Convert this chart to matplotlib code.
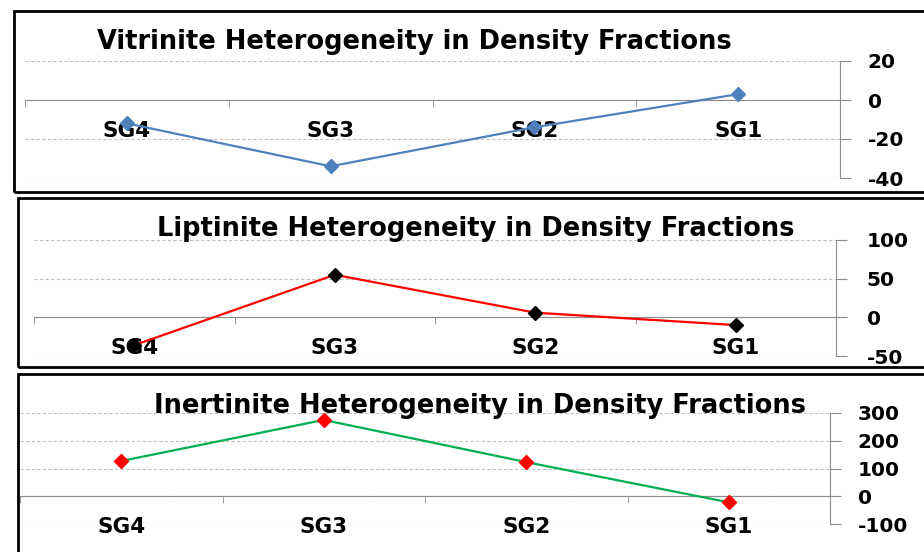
import numpy as np
import matplotlib
matplotlib.use('Agg')
import matplotlib.pyplot as plt
from matplotlib.patches import Rectangle

# Data
categories = ['SG4', 'SG3', 'SG2', 'SG1']

vitrinite = [-12, -34, -14, 3]
vitrinite_ticks = [-40, -20, 0, 20]

liptinite = [-36, 55, 6, -10]
liptinite_ticks = [-50, 0, 50, 100]

inertinite = [127, 275, 123, -22]
inertinite_ticks = [-100, 0, 100, 200, 300]

titles = ['Vitrinite Heterogeneity in Density Fractions',
          'Liptinite Heterogeneity in Density Fractions',
          'Inertinite Heterogeneity in Density Fractions']

W, H = 924, 552
GRAY = '#8c8c8c'
GRID = '#c0c0c0'

plt.rcParams['font.family'] = 'DejaVu Sans'
plt.rcParams['axes.unicode_minus'] = False


def px_rect(left, top, right, bottom):
    ''' Convert a pixel box (top-left origin) into figure fractions. '''
    return [left / W, 1 - bottom / H, (right - left) / W, (bottom - top) / H]


def draw_panel(fig, box, axbox, values, yticks, title, title_xy,
               line_color, marker_color, ylabel_pad=12):
    # outer frame of the panel
    l, t, r, b = box
    fig.patches.append(Rectangle((l / W, 1 - b / H), (r - l) / W, (b - t) / H,
                                 transform=fig.transFigure, fill=False,
                                 edgecolor='black', linewidth=2.0, zorder=0))

    ax = fig.add_axes(px_rect(*axbox))
    ax.patch.set_alpha(0)
    x = np.arange(len(categories))

    ax.set_xlim(-0.5, len(categories) - 0.5)
    ax.set_ylim(yticks[0], yticks[-1])

    # spines: right value axis, category axis crossing at zero
    for side in ['left', 'top']:
        ax.spines[side].set_visible(False)
    ax.spines['right'].set_color(GRAY)
    ax.spines['bottom'].set_color(GRAY)
    ax.spines['bottom'].set_position(('data', 0))
    ax.spines['bottom'].set_zorder(2)

    ax.yaxis.tick_right()
    ax.set_yticks(yticks)
    ax.set_yticklabels([str(v) for v in yticks])
    ax.tick_params(axis='y', length=8, color=GRAY, pad=ylabel_pad,
                   labelsize=14.5)
    for lab in ax.get_yticklabels():
        lab.set_fontweight('bold')
    ax.yaxis.grid(True, linestyle=(0, (3, 2)), color=GRID, linewidth=0.8)
    ax.set_axisbelow(True)

    ax.set_xticks(x)
    ax.set_xticklabels(categories, fontsize=15.5, fontweight='bold')
    ax.set_xticks(np.arange(-0.5, len(categories)), minor=True)
    ax.tick_params(axis='x', which='major', length=0, pad=15)
    ax.tick_params(axis='x', which='minor', length=5, color=GRAY,
                   direction='out')

    ax.plot(x, values, color=line_color, linewidth=1.6, marker='D',
            markersize=7, markerfacecolor=marker_color,
            markeredgecolor=marker_color, zorder=3, clip_on=False)

    fig.text(title_xy[0] / W, 1 - title_xy[1] / H, title, ha='center',
             va='baseline', fontsize=18.5, fontweight='bold')
    return ax


fig = plt.figure(figsize=(W / 100, H / 100), dpi=100)
fig.patch.set_facecolor('white')

draw_panel(fig, (14, 11, 940, 192), (25, 61, 840, 178), vitrinite,
           vitrinite_ticks, titles[0], (414, 49), '#4f81bd', '#4f81bd')
draw_panel(fig, (18, 198, 940, 367), (34, 240, 836, 356), liptinite,
           liptinite_ticks, titles[1], (476, 236), '#ff0000', '#000000',
           ylabel_pad=14)
draw_panel(fig, (18, 374, 940, 570), (20, 413, 830, 524), inertinite,
           inertinite_ticks, titles[2], (480, 413), '#00b050', '#ff0000')

fig.savefig('out.png', dpi=100)
